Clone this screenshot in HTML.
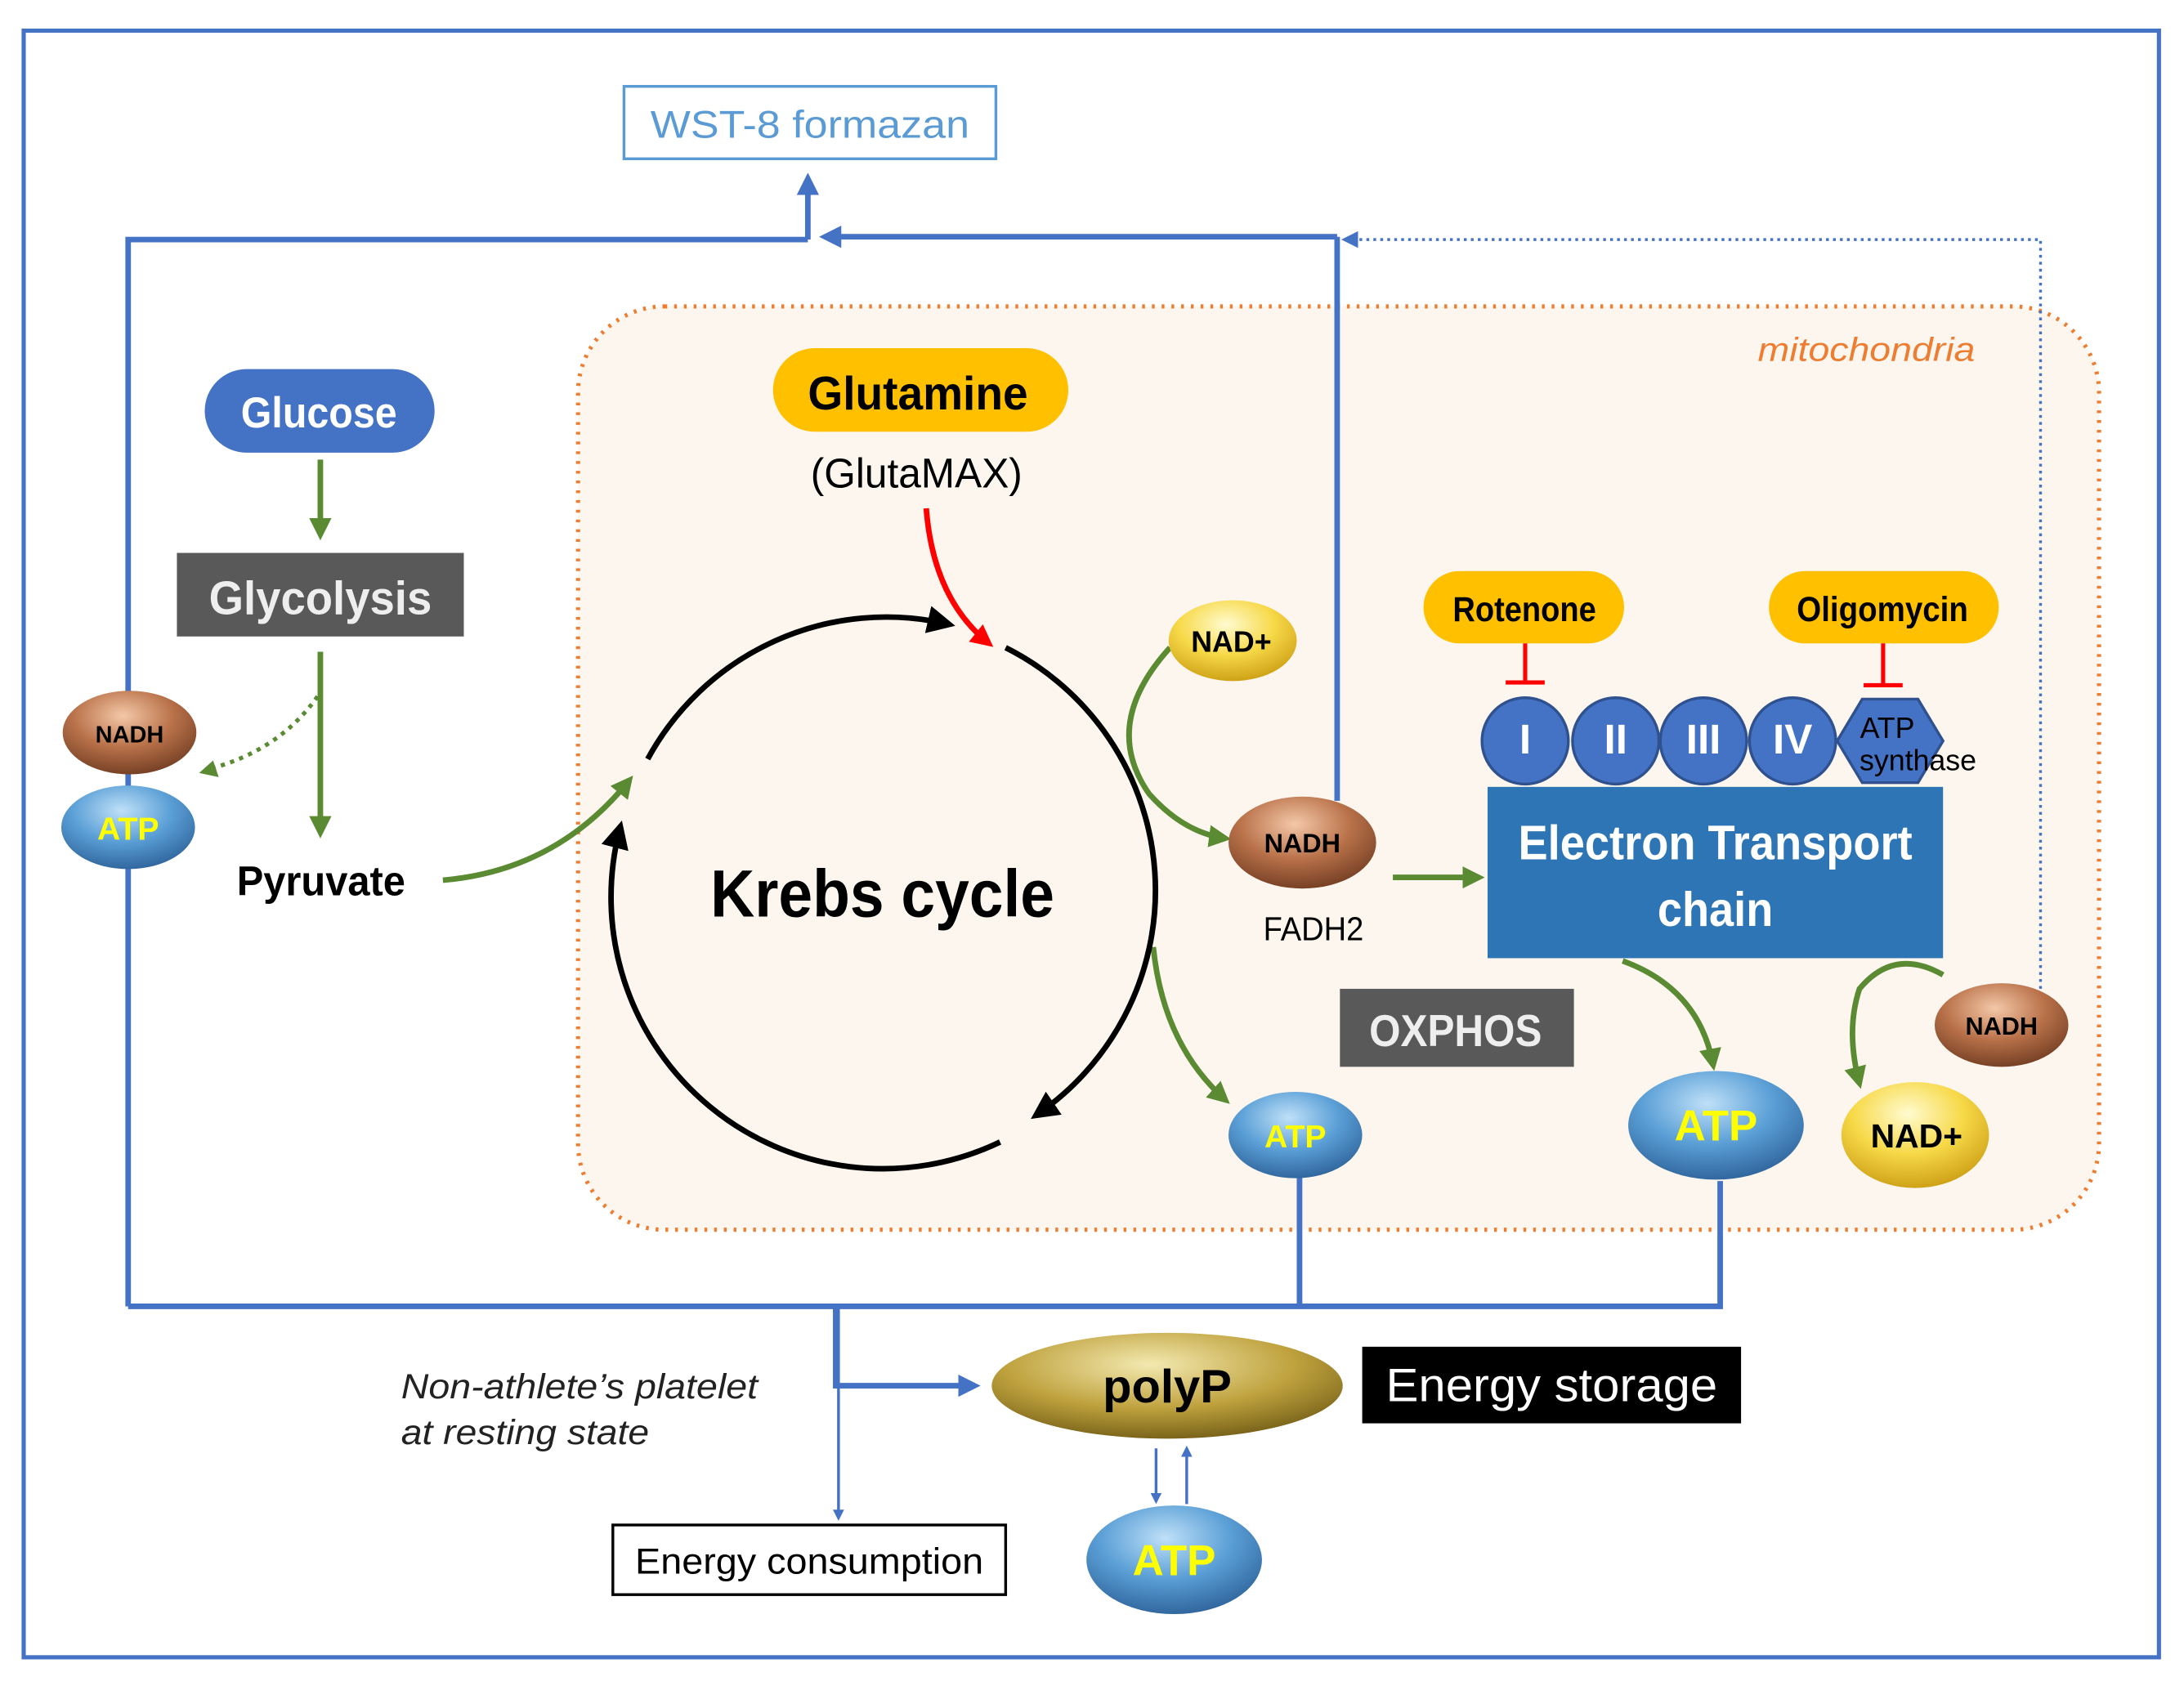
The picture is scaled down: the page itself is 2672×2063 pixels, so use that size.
<!DOCTYPE html>
<html><head><meta charset="utf-8"><style>
html,body{margin:0;padding:0;background:#fff}
svg{display:block}
text{font-family:"Liberation Sans",sans-serif}
</style></head><body>
<svg width="2672" height="2063" viewBox="0 0 1568 1210.6" xmlns="http://www.w3.org/2000/svg">
<defs>
<marker id="ab" markerWidth="8" markerHeight="8" refX="6" refY="4" orient="auto" markerUnits="userSpaceOnUse"><path d="M0,0 L8,4 L0,8 z" fill="#4472c4"/></marker>
<marker id="abl" markerWidth="16" markerHeight="16" refX="12" refY="8" orient="auto" markerUnits="userSpaceOnUse"><path d="M0,0 L16,8 L0,16 z" fill="#4472c4"/></marker>
<marker id="ag" markerWidth="16" markerHeight="16" refX="12" refY="8" orient="auto" markerUnits="userSpaceOnUse"><path d="M0,0 L16,8 L0,16 z" fill="#5a8a32"/></marker>
<marker id="ar" markerWidth="16" markerHeight="16" refX="12" refY="8" orient="auto" markerUnits="userSpaceOnUse"><path d="M0,0 L16,8 L0,16 z" fill="#ff0000"/></marker>
<marker id="ak" markerWidth="20" markerHeight="20" refX="14" refY="10" orient="auto" markerUnits="userSpaceOnUse"><path d="M0,0 L20,10 L0,20 z" fill="#000"/></marker>
<radialGradient id="gb" cx="0.45" cy="0.3" r="0.75"><stop offset="0" stop-color="#bfe0f8"/><stop offset="0.5" stop-color="#5a9fd6"/><stop offset="1" stop-color="#2b5f96"/></radialGradient>
<radialGradient id="gn" cx="0.45" cy="0.3" r="0.75"><stop offset="0" stop-color="#f4c8a8"/><stop offset="0.5" stop-color="#b9724a"/><stop offset="1" stop-color="#6e3a20"/></radialGradient>
<radialGradient id="gy" cx="0.45" cy="0.3" r="0.75"><stop offset="0" stop-color="#fffbd0"/><stop offset="0.5" stop-color="#f7d948"/><stop offset="1" stop-color="#c99a10"/></radialGradient>
<radialGradient id="gp" cx="0.45" cy="0.3" r="0.75"><stop offset="0" stop-color="#f3e9b0"/><stop offset="0.55" stop-color="#bfa23e"/><stop offset="1" stop-color="#6f5a14"/></radialGradient>
</defs>
<rect x="17" y="22" width="1533" height="1168" fill="#fff" stroke="#4472c4" stroke-width="3"/>
<rect x="415" y="220" width="1092" height="663" rx="62" fill="#fdf6ef" stroke="#ed7d31" stroke-width="3" stroke-dasharray="2 5"/>
<text x="1262" y="259" font-size="24" font-style="italic" fill="#ed7d31" textLength="156" lengthAdjust="spacingAndGlyphs">mitochondria</text>
<rect x="448" y="62" width="267" height="52" fill="#fff" stroke="#5b9bd5" stroke-width="2"/>
<text x="467" y="99" font-size="28" fill="#5b9bd5" textLength="229" lengthAdjust="spacingAndGlyphs">WST-8 formazan</text>
<g stroke="#4472c4" stroke-width="4" fill="none">
<polyline points="92,938 92,172 580,172"/>
<line x1="580" y1="172" x2="580" y2="128" marker-end="url(#abl)"/>
<line x1="960" y1="575" x2="960" y2="170"/>
<line x1="960" y1="170" x2="592" y2="170" marker-end="url(#abl)"/>
<polyline points="92,938 1235,938 1235,848"/>
<line x1="933" y1="938" x2="933" y2="845"/>
<polyline points="600,938 600,995 700,995" marker-end="url(#abl)"/>
</g>
<polyline points="1465,710 1465,172 975,172" fill="none" stroke="#4472c4" stroke-width="2" stroke-dasharray="2 3"/>
<path d="M975,166 L963,172 L975,178z" fill="#4472c4"/>
<line x1="602" y1="938" x2="602" y2="1090" stroke="#4472c4" stroke-width="2" marker-end="url(#ab)"/>
<line x1="830" y1="1040" x2="830" y2="1078" stroke="#4472c4" stroke-width="2" marker-end="url(#ab)"/>
<line x1="852" y1="1080" x2="852" y2="1040" stroke="#4472c4" stroke-width="2" marker-end="url(#ab)"/>
<rect x="147" y="265" width="165" height="60" rx="30" fill="#4472c4"/>
<text x="173" y="307" font-size="31" font-weight="bold" fill="#fff" textLength="112" lengthAdjust="spacingAndGlyphs">Glucose</text>
<g stroke="#5a8a32" stroke-width="4" fill="none">
<line x1="230" y1="330" x2="230" y2="384" marker-end="url(#ag)"/>
<line x1="230" y1="468" x2="230" y2="598" marker-end="url(#ag)"/>
<path d="M318,632 Q400,625 452,560" marker-end="url(#ag)"/>
<path d="M840,465 Q790,520 825,570 Q850,598 880,602" marker-end="url(#ag)"/>
<line x1="1000" y1="630" x2="1062" y2="630" marker-end="url(#ag)"/>
<path d="M828,680 Q835,750 880,790" marker-end="url(#ag)"/>
<path d="M1165,690 Q1220,710 1230,765" marker-end="url(#ag)"/>
<path d="M1395,700 Q1360,680 1335,710 Q1325,740 1335,778" marker-end="url(#ag)"/>
</g>
<path d="M228,500 Q200,540 147,553" fill="none" stroke="#5a8a32" stroke-width="3" stroke-dasharray="3 4"/>
<path d="M153,546 L143,555 L157,558z" fill="#5a8a32"/>
<rect x="127" y="397" width="206" height="60" fill="#595959"/>
<text x="150" y="441" font-size="34" font-weight="bold" fill="#eee" textLength="160" lengthAdjust="spacingAndGlyphs">Glycolysis</text>
<text x="170" y="643" font-size="30" font-weight="bold" fill="#000" textLength="121" lengthAdjust="spacingAndGlyphs">Pyruvate</text>
<g stroke="#000" stroke-width="4" fill="none">
<path d="M465,545 A195,195 0 0 1 680,448" marker-end="url(#ak)"/>
<path d="M722,465 A195,195 0 0 1 745,800" marker-end="url(#ak)"/>
<path d="M718,820 A195,195 0 0 1 445,595" marker-end="url(#ak)"/>
</g>
<text x="510" y="658" font-size="48" font-weight="bold" fill="#000" textLength="247" lengthAdjust="spacingAndGlyphs">Krebs cycle</text>
<rect x="555" y="250" width="212" height="60" rx="30" fill="#ffc000"/>
<text x="580" y="294" font-size="34" font-weight="bold" fill="#000" textLength="158" lengthAdjust="spacingAndGlyphs">Glutamine</text>
<text x="582" y="350" font-size="30" fill="#000" textLength="152" lengthAdjust="spacingAndGlyphs">(GlutaMAX)</text>
<path d="M665,365 Q670,430 710,462" fill="none" stroke="#ff0000" stroke-width="4" marker-end="url(#ar)"/>
<rect x="1068" y="565" width="327" height="123" fill="#2e75b6"/>
<text x="1090" y="617" font-size="35" font-weight="bold" fill="#fff" textLength="283" lengthAdjust="spacingAndGlyphs">Electron Transport</text>
<text x="1190" y="665" font-size="35" font-weight="bold" fill="#fff" textLength="83" lengthAdjust="spacingAndGlyphs">chain</text>
<g fill="#4472c4" stroke="#2f528f" stroke-width="2">
<circle cx="1095" cy="532" r="31"/><circle cx="1160" cy="532" r="31"/><circle cx="1223" cy="532" r="31"/><circle cx="1287" cy="532" r="31"/>
<polygon points="1337,502 1377,502 1395,532 1377,562 1337,562 1319,532"/>
</g>
<g font-family="Liberation Serif,serif" font-size="30" font-weight="bold" fill="#fff" text-anchor="middle">
<text x="1095" y="541">I</text><text x="1160" y="541">II</text><text x="1223" y="541">III</text><text x="1287" y="541">IV</text></g>
<text x="1355" y="530" font-size="21" fill="#000" text-anchor="middle">ATP</text>
<text x="1377" y="553" font-size="21" fill="#000" text-anchor="middle" textLength="84" lengthAdjust="spacingAndGlyphs">synthase</text>
<rect x="1022" y="410" width="144" height="52" rx="26" fill="#ffc000"/>
<text x="1043" y="446" font-size="25" font-weight="bold" fill="#000" textLength="103" lengthAdjust="spacingAndGlyphs">Rotenone</text>
<rect x="1270" y="410" width="165" height="52" rx="26" fill="#ffc000"/>
<text x="1290" y="446" font-size="25" font-weight="bold" fill="#000" textLength="123" lengthAdjust="spacingAndGlyphs">Oligomycin</text>
<g stroke="#ff0000" stroke-width="3"><line x1="1095" y1="462" x2="1095" y2="490"/><line x1="1081" y1="490" x2="1109" y2="490"/>
<line x1="1352" y1="462" x2="1352" y2="492"/><line x1="1338" y1="492" x2="1366" y2="492"/></g>
<rect x="962" y="710" width="168" height="56" fill="#595959"/>
<text x="983" y="751" font-size="32" font-weight="bold" fill="#eee" textLength="124" lengthAdjust="spacingAndGlyphs">OXPHOS</text>
<text x="943" y="675" font-size="24" fill="#000" text-anchor="middle" textLength="72" lengthAdjust="spacingAndGlyphs">FADH2</text>
<ellipse cx="93" cy="526" rx="48" ry="30" fill="url(#gn)"/><text x="93" y="533" font-size="17" font-weight="bold" text-anchor="middle">NADH</text>
<ellipse cx="92" cy="594" rx="48" ry="30" fill="url(#gb)"/><text x="92" y="603" font-size="23" font-weight="bold" fill="#ffff00" text-anchor="middle">ATP</text>
<ellipse cx="885" cy="460" rx="46" ry="29" fill="url(#gy)"/><text x="884" y="468" font-size="21" font-weight="bold" text-anchor="middle">NAD+</text>
<ellipse cx="935" cy="605" rx="53" ry="33" fill="url(#gn)"/><text x="935" y="612" font-size="19" font-weight="bold" text-anchor="middle">NADH</text>
<ellipse cx="930" cy="815" rx="48" ry="31" fill="url(#gb)"/><text x="930" y="824" font-size="23" font-weight="bold" fill="#ffff00" text-anchor="middle">ATP</text>
<ellipse cx="1232" cy="808" rx="63" ry="39" fill="url(#gb)"/><text x="1232" y="819" font-size="31" font-weight="bold" fill="#ffff00" text-anchor="middle">ATP</text>
<ellipse cx="1437" cy="736" rx="48" ry="30" fill="url(#gn)"/><text x="1437" y="743" font-size="18" font-weight="bold" text-anchor="middle">NADH</text>
<ellipse cx="1375" cy="815" rx="53" ry="38" fill="url(#gy)"/><text x="1376" y="824" font-size="24" font-weight="bold" text-anchor="middle">NAD+</text>
<ellipse cx="838" cy="995" rx="126" ry="38" fill="url(#gp)"/><text x="838" y="1007" font-size="34" font-weight="bold" text-anchor="middle">polyP</text>
<ellipse cx="843" cy="1120" rx="63" ry="39" fill="url(#gb)"/><text x="843" y="1131" font-size="31" font-weight="bold" fill="#ffff00" text-anchor="middle">ATP</text>
<rect x="978" y="967" width="272" height="55" fill="#000"/>
<text x="995" y="1006" font-size="34" fill="#fff" textLength="238" lengthAdjust="spacingAndGlyphs">Energy storage</text>
<text x="288" y="1004" font-size="25" font-style="italic" fill="#222" textLength="256" lengthAdjust="spacingAndGlyphs">Non-athlete’s platelet</text>
<text x="288" y="1037" font-size="25" font-style="italic" fill="#222" textLength="178" lengthAdjust="spacingAndGlyphs">at resting state</text>
<rect x="440" y="1095" width="282" height="50" fill="#fff" stroke="#000" stroke-width="2"/>
<text x="456" y="1130" font-size="26" fill="#000" textLength="250" lengthAdjust="spacingAndGlyphs">Energy consumption</text>
</svg>
</body></html>
